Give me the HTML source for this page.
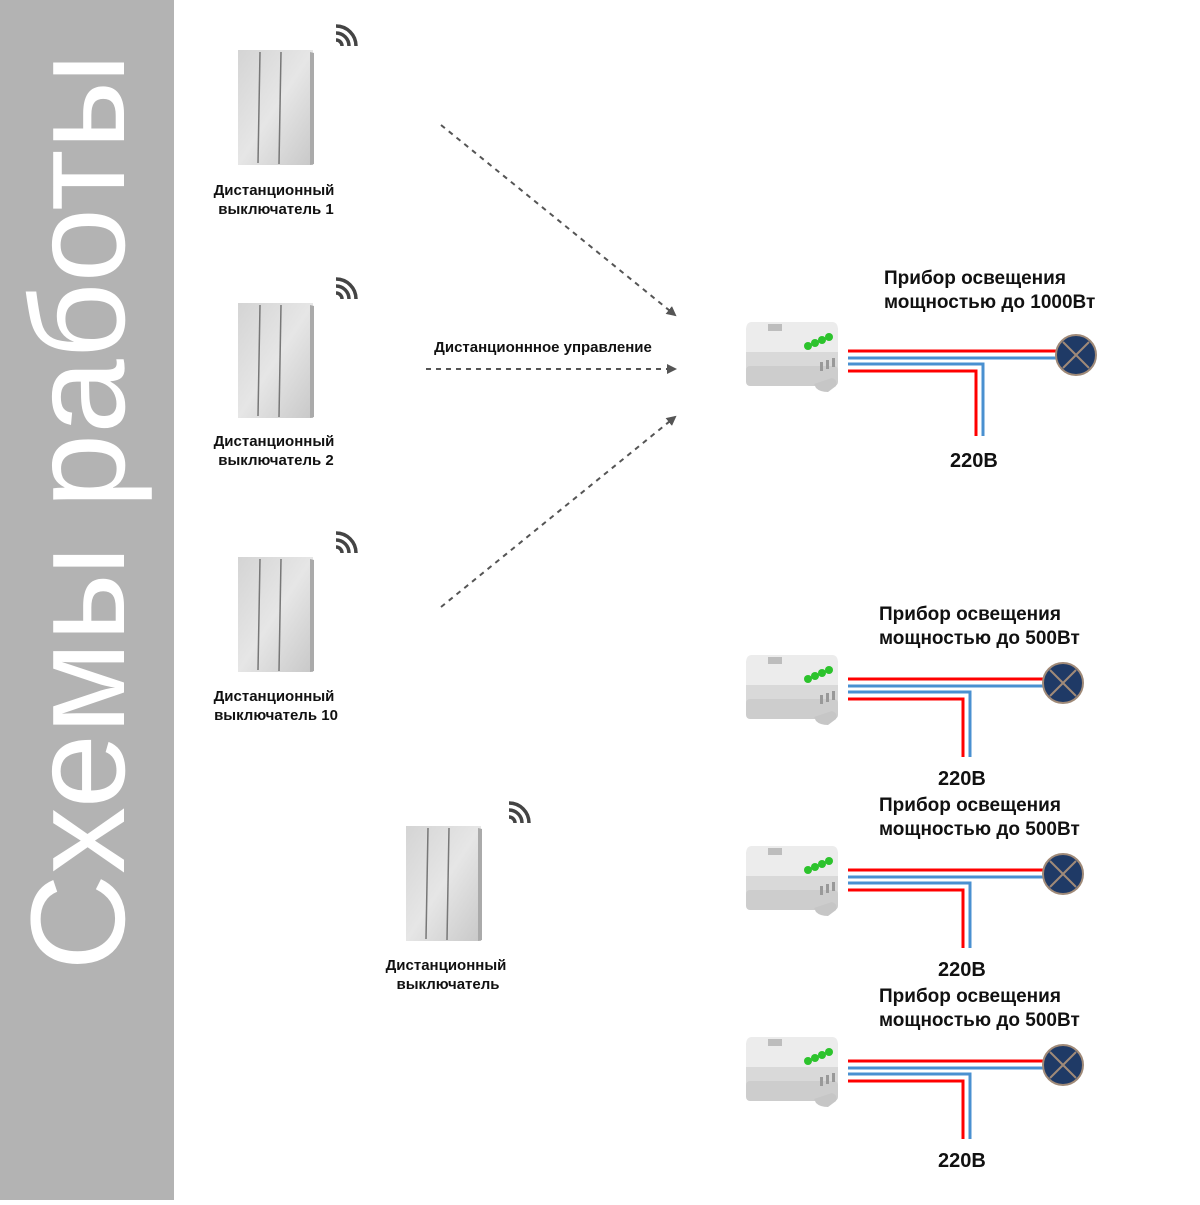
<!DOCTYPE html>
<html><head><meta charset="utf-8"><style>
body{margin:0;width:1200px;height:1200px;background:#fff;overflow:hidden}
svg text{font-family:"Liberation Sans",sans-serif}
</style></head><body>
<svg width="1200" height="1200" viewBox="0 0 1200 1200" xmlns="http://www.w3.org/2000/svg">
<defs>
<linearGradient id="sw" x1="0" y1="0" x2="1" y2="1"><stop offset="0" stop-color="#d4d4d4"/><stop offset="0.5" stop-color="#e6e6e6"/><stop offset="1" stop-color="#c8c8c8"/></linearGradient>
<marker id="ah" markerWidth="10" markerHeight="10" refX="8" refY="5" orient="auto" markerUnits="userSpaceOnUse"><path d="M0,0 L10,5 L0,10 z" fill="#555"/></marker>
<g id="switch">
<rect x="0" y="0" width="75" height="115" fill="url(#sw)"/>
<path d="M72,2 L76,3 L76,114 L72,115z" fill="#aaa"/>
<line x1="22" y1="2" x2="20" y2="113" stroke="#777" stroke-width="1.5"/>
<line x1="43" y1="2" x2="41" y2="114" stroke="#777" stroke-width="1.5"/>
</g>
<g id="wifi" fill="none" stroke="#444" stroke-width="3.5">
<path d="M0,10 a6,6 0 0 1 6,6"/><path d="M0,3 a13,13 0 0 1 13,13"/><path d="M0,-4 a20,20 0 0 1 20,20"/>
</g>
<g id="relay">
<rect x="0" y="2" width="92" height="62" rx="6" fill="#d9d9d9"/>
<path d="M6,0 H86 Q92,0 92,8 V30 H0 V8 Q0,0 6,0z" fill="#ececec"/>
<rect x="0" y="44" width="92" height="20" rx="4" fill="#cdcdcd"/>
<path d="M68,62 L86,56 Q92,58 90,64 L82,70 Q74,70 70,66z" fill="#c6c6c6"/>
<rect x="22" y="2" width="14" height="7" fill="#bdbdbd"/>
<g fill="#999"><rect x="74" y="40" width="3" height="9"/><rect x="80" y="38" width="3" height="9"/><rect x="86" y="36" width="3" height="9"/></g>
<circle cx="62" cy="24" r="4" fill="#2cc32c"/><circle cx="69" cy="21" r="4" fill="#2cc32c"/><circle cx="76" cy="18" r="4" fill="#2cc32c"/><circle cx="83" cy="15" r="4" fill="#2cc32c"/>
</g>
<g id="lamp"><circle r="20" fill="#1f3a66" stroke="#a08a78" stroke-width="2"/><path d="M-13,-13 L13,13 M13,-13 L-13,13" stroke="#a08a78" stroke-width="2"/></g>
</defs>
<rect x="0" y="0" width="174" height="1200" fill="#b3b3b3"/>
<text transform="translate(124,512) rotate(-90)" text-anchor="middle" font-size="134" fill="#fff" font-weight="300">Схемы работы</text>

<use href="#switch" x="238" y="50"/><use href="#wifi" x="336" y="30"/>
<use href="#switch" x="238" y="303"/><use href="#wifi" x="336" y="283"/>
<use href="#switch" x="238" y="557"/><use href="#wifi" x="336" y="537"/>
<use href="#switch" x="406" y="826"/><use href="#wifi" x="509" y="807"/>
<g font-size="15" font-weight="bold" fill="#111" text-anchor="middle">
<text x="274" y="195">Дистанционный</text><text x="276" y="214">выключатель 1</text>
<text x="274" y="446">Дистанционный</text><text x="276" y="465">выключатель 2</text>
<text x="274" y="701">Дистанционный</text><text x="276" y="720">выключатель 10</text>
<text x="446" y="970">Дистанционный</text><text x="448" y="989">выключатель</text>
<text x="543" y="352">Дистанционнное управление</text>
</g>
<g stroke="#555" stroke-width="2" stroke-dasharray="5,5" fill="none" marker-end="url(#ah)">
<line x1="441" y1="125" x2="675" y2="315"/>
<line x1="426" y1="369" x2="675" y2="369"/>
<line x1="441" y1="607" x2="675" y2="417"/>
</g>

<use href="#relay" x="746" y="322"/>
<g fill="none" stroke-width="3">
<path d="M848,351 H1060" stroke="#f00"/><path d="M848,358 H1060" stroke="#4a90d0"/>
<path d="M848,364 H983 V436" stroke="#4a90d0"/><path d="M848,371 H976 V436" stroke="#f00"/>
</g>
<use href="#lamp" x="1076" y="355"/>
<g font-size="19" font-weight="bold" fill="#111">
<text x="884" y="284">Прибор освещения</text><text x="884" y="308">мощностью до 1000Вт</text>
<text x="950" y="467" font-size="20">220В</text>
</g>

<g id="set2">
<use href="#relay" x="746" y="655"/>
<g fill="none" stroke-width="3">
<path d="M848,679 H1047" stroke="#f00"/><path d="M848,686 H1047" stroke="#4a90d0"/>
<path d="M848,692 H970 V757" stroke="#4a90d0"/><path d="M848,699 H963 V757" stroke="#f00"/>
</g>
<use href="#lamp" x="1063" y="683"/>
<g font-size="19" font-weight="bold" fill="#111">
<text x="879" y="620">Прибор освещения</text><text x="879" y="644">мощностью до 500Вт</text>
<text x="938" y="785" font-size="20">220В</text>
</g>
</g>
<use href="#set2" x="0" y="191"/>
<use href="#set2" x="0" y="382"/>
</svg>
</body></html>
